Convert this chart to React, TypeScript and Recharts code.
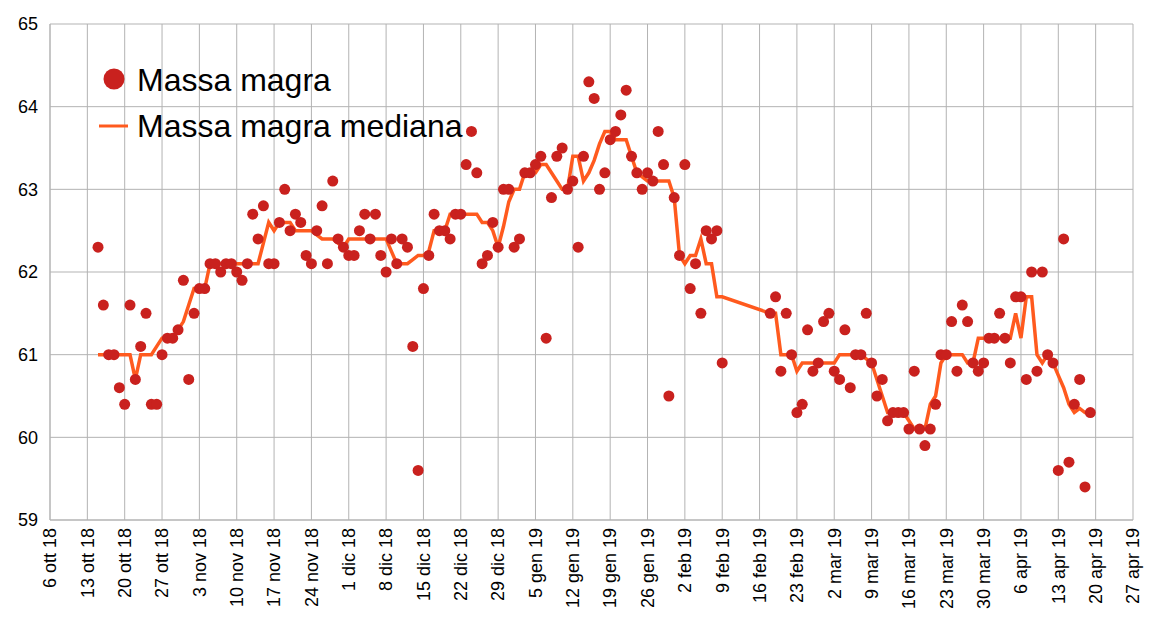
import React from "react";
import {
  ComposedChart,
  Line,
  Scatter,
  XAxis,
  YAxis,
  CartesianGrid,
  Legend,
} from "recharts";

// day 0 of the x axis = 6 ott 18
const AXIS_START = Date.UTC(2018, 9, 6);
const DAY = 86400000;

const tickLabels = [
  "6 ott 18", "13 ott 18", "20 ott 18", "27 ott 18", "3 nov 18", "10 nov 18",
  "17 nov 18", "24 nov 18", "1 dic 18", "8 dic 18", "15 dic 18", "22 dic 18",
  "29 dic 18", "5 gen 19", "12 gen 19", "19 gen 19", "26 gen 19", "2 feb 19",
  "9 feb 19", "16 feb 19", "23 feb 19", "2 mar 19", "9 mar 19", "16 mar 19",
  "23 mar 19", "30 mar 19", "6 apr 19", "13 apr 19", "20 apr 19", "27 apr 19",
];
const yTicks = [59, 60, 61, 62, 63, 64, 65];

// first run of daily readings: 15 ott 18 -> 9 feb 19
const firstStart = "2018-10-15";
const firstMass = [
  // ott
  62.3, 61.6, 61.0, 61.0, 60.6, 60.4, 61.6, 60.7, 61.1, 61.5, 60.4, 60.4, 61.0, 61.2, 61.2, 61.3, 61.9,
  // nov
  60.7, 61.5, 61.8, 61.8, 62.1, 62.1, 62.0, 62.1, 62.1, 62.0, 61.9, 62.1, 62.7, 62.4, 62.8,
  62.1, 62.1, 62.6, 63.0, 62.5, 62.7, 62.6, 62.2, 62.1, 62.5, 62.8, 62.1, 63.1, 62.4, 62.3,
  // dic
  62.2, 62.2, 62.5, 62.7, 62.4, 62.7, 62.2, 62.0, 62.4, 62.1, 62.4, 62.3, 61.1, 59.6, 61.8,
  62.2, 62.7, 62.5, 62.5, 62.4, 62.7, 62.7, 63.3, 63.7, 63.2, 62.1, 62.2, 62.6, 62.3, 63.0, 63.0,
  // gen
  62.3, 62.4, 63.2, 63.2, 63.3, 63.4, 61.2, 62.9, 63.4, 63.5, 63.0, 63.1, 62.3, 63.4, 64.3,
  64.1, 63.0, 63.2, 63.6, 63.7, 63.9, 64.2, 63.4, 63.2, 63.0, 63.2, 63.1, 63.7, 63.3, 60.5, 62.9,
  // feb
  62.2, 63.3, 61.8, 62.1, 61.5, 62.5, 62.4, 62.5, 60.9,
];
const firstMedian = [
  // ott
  61.0, 61.0, 61.0, 61.0, 61.0, 61.0, 61.0, 60.7, 61.0, 61.0, 61.0, 61.1, 61.2, 61.2, 61.2, 61.3, 61.4,
  // nov
  61.6, 61.8, 61.8, 61.8, 62.1, 62.1, 62.1, 62.1, 62.1, 62.1, 62.1, 62.1, 62.1, 62.1, 62.35,
  62.6, 62.5, 62.6, 62.6, 62.6, 62.5, 62.5, 62.5, 62.5, 62.45, 62.4, 62.4, 62.4, 62.35, 62.3,
  // dic
  62.4, 62.4, 62.4, 62.4, 62.4, 62.4, 62.4, 62.4, 62.25, 62.1, 62.1, 62.1, 62.15, 62.2, 62.2,
  62.25, 62.5, 62.5, 62.5, 62.7, 62.7, 62.7, 62.7, 62.7, 62.7, 62.6, 62.6, 62.5, 62.3, 62.55, 62.85,
  // gen
  63.0, 63.0, 63.2, 63.2, 63.2, 63.3, 63.3, 63.2, 63.1, 63.0, 63.0, 63.4, 63.4, 63.1, 63.2,
  63.35, 63.55, 63.7, 63.7, 63.6, 63.6, 63.6, 63.4, 63.2, 63.15, 63.1, 63.1, 63.1, 63.1, 63.1, 62.9,
  // feb
  62.2, 62.1, 62.2, 62.2, 62.4, 62.1, 62.1, 61.7, 61.7,
];

// second run: 18 feb 19 -> 19 apr 19
const secondStart = "2019-02-18";
const secondMass = [
  // feb
  61.5, 61.7, 60.8, 61.5, 61.0, 60.3, 60.4, 61.3, 60.8, 60.9, 61.4,
  // mar
  61.5, 60.8, 60.7, 61.3, 60.6, 61.0, 61.0, 61.5, 60.9, 60.5, 60.7, 60.2, 60.3, 60.3, 60.3,
  60.1, 60.8, 60.1, 59.9, 60.1, 60.4, 61.0, 61.0, 61.4, 60.8, 61.6, 61.4, 60.9, 60.8, 60.9, 61.2,
  // apr
  61.2, 61.5, 61.2, 60.9, 61.7, 61.7, 60.7, 62.0, 60.8, 62.0, 61.0, 60.9, 59.6, 62.4, 59.7,
  60.4, 60.7, 59.4, 60.3,
];
const secondMedian = [
  // feb
  61.5, 61.5, 61.0, 61.0, 61.0, 60.8, 60.9, 60.9, 60.9, 60.9, 60.9,
  // mar
  60.9, 60.9, 61.0, 61.0, 61.0, 61.0, 61.0, 60.95, 60.9, 60.7, 60.5, 60.3, 60.3, 60.3, 60.3,
  60.2, 60.1, 60.1, 60.1, 60.4, 60.5, 60.9, 61.0, 61.0, 61.0, 61.0, 60.9, 60.9, 61.2, 61.2, 61.2,
  // apr
  61.2, 61.2, 61.2, 61.2, 61.5, 61.2, 61.7, 61.7, 61.0, 60.9, 61.0, 60.9, 60.75, 60.6, 60.4,
  60.3, 60.35, 60.3, 60.3,
];

const RED = "#c9211e";
const ORANGE = "#ff5a1e";
const GRID = "#b3b3b3";
const FONT = "'Liberation Sans', Arial, sans-serif";

function toRows(start: string, mass: number[], median: number[]) {
  const first = Math.round((Date.parse(start + "T00:00:00Z") - AXIS_START) / DAY);
  return mass.map((m, i) => ({ day: first + i, mass: m, median: median[i] }));
}

const data = [
  ...toRows(firstStart, firstMass, firstMedian),
  ...toRows(secondStart, secondMass, secondMedian),
];
const xTicks = tickLabels.map((_, i) => i * 7);

const XTick = (props: any) => {
  const { x, y, payload } = props;
  return (
    <g transform={`translate(${x},${y})`}>
      <text
        transform="rotate(-90)"
        textAnchor="end"
        dy="0.35em"
        fontSize={18}
        fontFamily={FONT}
        fill="#000"
      >
        {tickLabels[Math.round(payload.value / 7)]}
      </text>
    </g>
  );
};

const YTick = (props: any) => {
  const { x, y, payload } = props;
  return (
    <text x={x} y={y} dy="0.35em" textAnchor="end" fontSize={18} fontFamily={FONT} fill="#000">
      {payload.value}
    </text>
  );
};

const Dot = (props: any) => <circle cx={props.cx} cy={props.cy} r={5.5} fill={RED} />;

const LegendBox = () => (
  <svg width={400} height={100} style={{ display: "block" }}>
    <circle cx={19} cy={25} r={10.5} fill={RED} />
    <text x={42} y={37} fontSize={32} fontFamily={FONT} fill="#000">
      Massa magra
    </text>
    <line x1={4} y1={72} x2={33} y2={72} stroke={ORANGE} strokeWidth={3} />
    <text x={42} y={83} fontSize={32} fontFamily={FONT} fill="#000">
      Massa magra mediana
    </text>
  </svg>
);

export default function App() {
  return (
    <div style={{ position: "absolute", left: 0, top: 0 }}>
      <ComposedChart
        width={1149}
        height={622}
        data={data}
        margin={{ top: 24, right: 16, bottom: 8, left: 0 }}
      >
        <CartesianGrid stroke={GRID} />
        <XAxis
          type="number"
          dataKey="day"
          domain={[0, 203]}
          ticks={xTicks}
          interval={0}
          height={94}
          tickLine={false}
          tickSize={0}
          tickMargin={8}
          axisLine={{ stroke: GRID }}
          tick={<XTick />}
        />
        <YAxis
          type="number"
          domain={[59, 65]}
          ticks={yTicks}
          interval={0}
          width={50}
          tickLine={false}
          tickSize={0}
          tickMargin={12}
          axisLine={{ stroke: GRID }}
          tick={<YTick />}
        />
        <Legend
          layout="vertical"
          align="center"
          verticalAlign="middle"
          wrapperStyle={{ left: 95, top: 54, width: 400 }}
          content={<LegendBox />}
        />
        <Line
          dataKey="median"
          stroke={ORANGE}
          strokeWidth={3.5}
          dot={false}
          activeDot={false}
          isAnimationActive={false}
        />
        <Scatter dataKey="mass" fill={RED} shape={<Dot />} isAnimationActive={false} />
      </ComposedChart>
    </div>
  );
}
